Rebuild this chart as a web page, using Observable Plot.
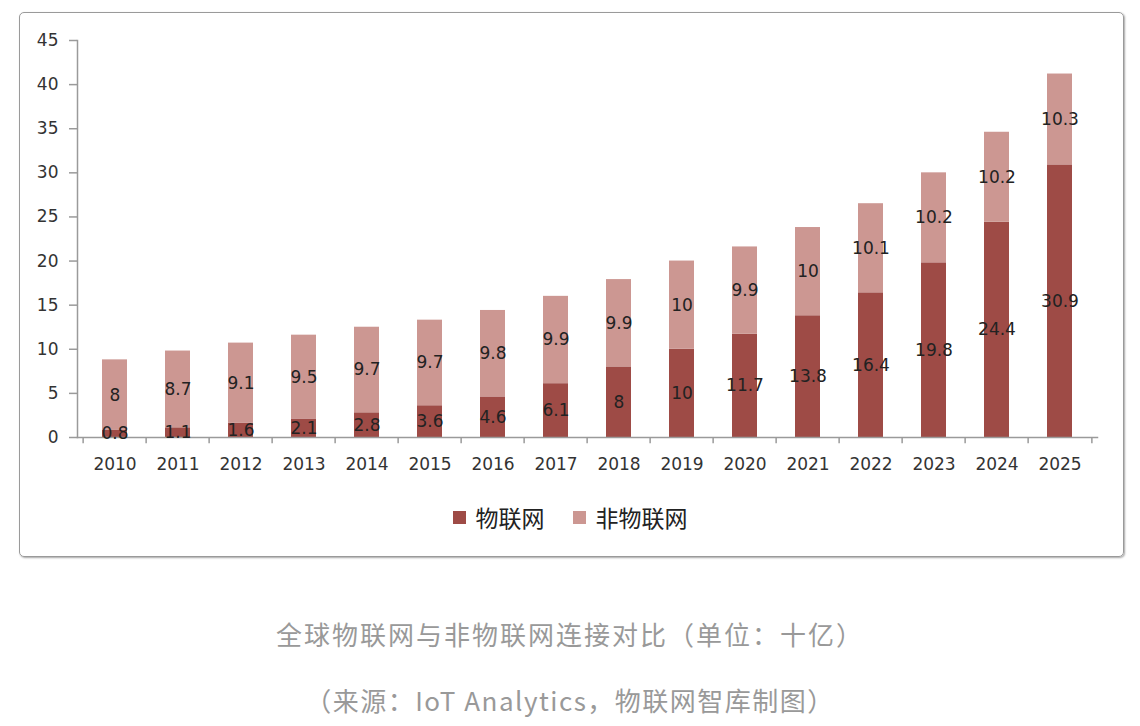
<!DOCTYPE html>
<html>
<head>
<meta charset="utf-8">
<script src="https://cdn.jsdelivr.net/npm/d3@7"></script>
<script src="https://cdn.jsdelivr.net/npm/@observablehq/plot@0.6"></script>
<style>
  html, body { margin: 0; padding: 0; background: #fff; }
  #page { position: relative; width: 1140px; height: 726px; overflow: hidden; }
  #box { position: absolute; left: 19px; top: 12px; width: 1103px; height: 543px;
         border: 1px solid #9a9a9a; border-radius: 5px; box-shadow: 1px 1px 2px rgba(0,0,0,0.35); }
  #chart { position: absolute; left: 0; top: 0; }
  #legend { position: absolute; left: 0; top: 500px; width: 1140px; display: flex; justify-content: center; align-items: center;
            font-family: "Noto Sans CJK SC", sans-serif; font-size: 23px; color: #222; }
  .sw { display: inline-block; width: 13px; height: 13px; margin-right: 10px; }
  .item { display: flex; align-items: center; margin: 0 14px; }
  .cap { position: absolute; left: 0; width: 1140px; text-align: center; font-family: "Noto Sans CJK SC", sans-serif;
         font-size: 26px; color: #999; letter-spacing: 2px; }
</style>
</head>
<body>
<div id="page">
  <div id="box"></div>
  <div id="chart"></div>
  <div id="legend"></div>
  <div class="cap" id="cap1" style="top:615px;"></div>
  <div class="cap" id="cap2" style="top:681px;letter-spacing:1.5px;"></div>
</div>
<script>
const years = ["2010","2011","2012","2013","2014","2015","2016","2017","2018","2019","2020","2021","2022","2023","2024","2025"];
const iot = [0.8, 1.1, 1.6, 2.1, 2.8, 3.6, 4.6, 6.1, 8, 10, 11.7, 13.8, 16.4, 19.8, 24.4, 30.9];
const nonIot = [8, 8.7, 9.1, 9.5, 9.7, 9.7, 9.8, 9.9, 9.9, 10, 9.9, 10, 10.1, 10.2, 10.2, 10.3];
const seriesNames = ["物联网", "非物联网"];
const seriesColors = ["#9e4b46", "#cc9792"];
const yTicks = [0, 5, 10, 15, 20, 25, 30, 35, 40, 45];
const title = "全球物联网与非物联网连接对比（单位：十亿）";
const source = "（来源：IoT Analytics，物联网智库制图）";

const data = years.flatMap((y, i) => [
  {year: y, series: seriesNames[0], value: iot[i]},
  {year: y, series: seriesNames[1], value: nonIot[i]}
]);

const W = 1140, mL = 77, mR = 43;
const step = (W - mL - mR) / years.length;

const chart = Plot.plot({
  width: W, height: 487,
  marginLeft: mL, marginRight: mR, marginTop: 40, marginBottom: 50,
  x: {domain: years, padding: 0, label: null},
  y: {domain: [0, 45], label: null},
  color: {domain: seriesNames, range: seriesColors},
  style: {fontFamily: "DejaVu Sans, Verdana, sans-serif", fontSize: "17px", color: "#333", background: "transparent"},
  marks: [
    Plot.barY(data, {x: "year", y: "value", fill: "series", order: seriesNames, insetLeft: 19, insetRight: 19}),
    Plot.frame({anchor: "left", stroke: "#9a9a9a", strokeWidth: 1.5}),
    Plot.frame({anchor: "bottom", stroke: "#9a9a9a", strokeWidth: 1.5}),
    Plot.ruleX(years, {x: d => d, dx: -step / 2, y1: 0, y2: -0.7, stroke: "#9a9a9a", strokeWidth: 1.5}),
    Plot.ruleX(years.slice(-1), {x: d => d, dx: step / 2, y1: 0, y2: -0.7, stroke: "#9a9a9a", strokeWidth: 1.5}),
    Plot.axisY({ticks: yTicks, tickSize: 8, tickPadding: 11, stroke: "#9a9a9a", strokeWidth: 1.5, fill: "#333", fontSize: 17, label: null}),
    Plot.axisX({tickSize: 0, tickPadding: 20, fill: "#333", fontSize: 17, label: null}),
    Plot.text(data, Plot.stackY({x: "year", y: "value", z: "series", order: seriesNames, text: d => String(d.value), fill: "#222", fontSize: 17}))
  ]
});
document.getElementById("chart").appendChild(chart);

const legend = document.getElementById("legend");
seriesNames.forEach((n, i) => {
  const it = document.createElement("div");
  it.className = "item";
  const sw = document.createElement("span");
  sw.className = "sw";
  sw.style.background = seriesColors[i];
  const t = document.createElement("span");
  t.textContent = n;
  it.appendChild(sw); it.appendChild(t);
  legend.appendChild(it);
});
document.getElementById("cap1").textContent = title;
document.getElementById("cap2").textContent = source;
</script>
</body>
</html>
